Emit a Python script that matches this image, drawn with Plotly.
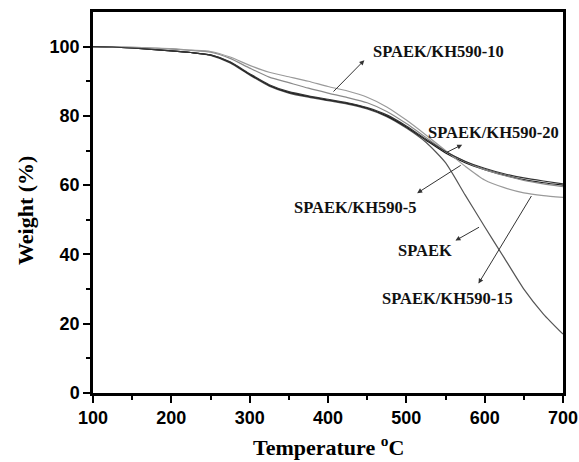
import plotly.graph_objects as go

# Temperature grid (°C) for the TGA traces
temperature = [100, 125, 150, 175, 200, 225, 250, 275, 300, 325, 350, 375, 400,
               425, 450, 475, 500, 525, 550, 575, 600, 625, 650, 675, 700]

# Residual weight (%) for each membrane
w_spaek = [100, 99.9, 99.6, 99.2, 98.8, 98.3, 97.5, 95.3, 91.8, 88.6, 86.6, 85.4, 84.4,
           83.4, 82.0, 79.8, 76.5, 72.4, 66.5, 57.2, 48.0, 39.0, 30.0, 22.8, 17.0]
w_kh5 = [100, 99.9, 99.6, 99.2, 98.8, 98.3, 97.6, 95.5, 92.0, 88.8, 86.8, 85.6, 84.6,
         83.6, 82.2, 80.0, 76.8, 73.0, 69.3, 66.5, 64.5, 62.9, 61.6, 60.7, 60.0]
w_kh10 = [100, 99.9, 99.8, 99.6, 99.3, 98.9, 98.4, 96.6, 93.8, 91.2, 89.6, 88.0, 86.6,
          85.3, 83.8, 81.3, 77.8, 73.8, 69.8, 66.8, 64.5, 62.8, 61.4, 60.4, 59.6]
w_kh15 = [100, 99.9, 99.8, 99.6, 99.4, 99.0, 98.6, 97.0, 94.6, 92.6, 91.3, 90.0, 88.5,
          87.2, 85.4, 82.6, 78.8, 74.5, 70.0, 65.5, 61.5, 59.3, 57.8, 57.0, 56.5]
w_kh20 = [100, 99.9, 99.6, 99.2, 98.8, 98.3, 97.6, 95.6, 92.2, 89.0, 87.0, 85.8, 84.8,
          83.8, 82.4, 80.3, 77.1, 73.3, 69.7, 66.9, 64.9, 63.3, 62.1, 61.2, 60.4]

series = [
    ("SPAEK", w_spaek, "#555555"),
    ("SPAEK/KH590-5", w_kh5, "#1a1a1a"),
    ("SPAEK/KH590-10", w_kh10, "#8a8a8a"),
    ("SPAEK/KH590-15", w_kh15, "#9a9a9a"),
    ("SPAEK/KH590-20", w_kh20, "#333333"),
]

# Label text, label centre (x, y), arrow head (x, y), arrow tail (x, y)
labels = [
    ("SPAEK/KH590-10", (541.6, 98.6), (446.4, 96.1), (405.1, 86.6)),
    ("SPAEK/KH590-20", (611.7, 75.2), (571.3, 71.7), (550.0, 69.3)),
    ("SPAEK/KH590-5", (435.6, 53.6), (513.8, 57.7), (571.3, 66.0)),
    ("SPAEK", (524.4, 41.1), (562.7, 44.0), (594.7, 48.1)),
    ("SPAEK/KH590-15", (552.1, 27.3), (592.1, 31.6), (660.8, 57.3)),
]

serif = "Liberation Serif, Times New Roman, serif"
sans = "Liberation Sans, Arial, sans-serif"

fig = go.Figure()
for name, w, color in series:
    fig.add_trace(go.Scatter(
        x=temperature, y=w, mode="lines", name=name,
        line=dict(color=color, width=1.2, shape="spline", smoothing=0.6),
        showlegend=False,
    ))

label_font = dict(family=serif, size=16.5, color="#111111")
for text, (tx, ty), (hx, hy), (sx, sy) in labels:
    fig.add_annotation(x=tx, y=ty, text=f"<b>{text}</b>", showarrow=False,
                       font=label_font, xanchor="center", yanchor="middle")
    fig.add_annotation(x=hx, y=hy, ax=sx, ay=sy, xref="x", yref="y",
                       axref="x", ayref="y", text="", showarrow=True,
                       arrowhead=2, arrowsize=1, arrowwidth=1, arrowcolor="#333333")

# Axis titles placed in paper space
fig.add_annotation(x=0.5, y=-0.14, xref="paper", yref="paper",
                   text="<b>Temperature <sup>o</sup>C</b>", showarrow=False,
                   xanchor="center", yanchor="middle",
                   font=dict(family=serif, size=22, color="black"))
fig.add_annotation(x=-0.145, y=0.48, xref="paper", yref="paper",
                   text="<b>Weight (%)</b>", showarrow=False, textangle=-90,
                   xanchor="center", yanchor="middle",
                   font=dict(family=serif, size=22, color="black"))

axis_common = dict(
    showline=True, linewidth=2.5, linecolor="black", mirror=True,
    ticks="outside", ticklen=7, tickwidth=2, tickcolor="black",
    showgrid=False, zeroline=False, automargin=False,
    tickfont=dict(family=sans, size=18, color="black", weight="bold"),
)

fig.update_xaxes(
    range=[100, 700], dtick=100, tick0=100,
    minor=dict(dtick=50, ticks="outside", ticklen=4, tickwidth=2, tickcolor="black"),
    **axis_common,
)
fig.update_yaxes(
    range=[0, 110], tickvals=[0, 20, 40, 60, 80, 100],
    minor=dict(tickvals=[10, 30, 50, 70, 90], ticks="outside", ticklen=4, tickwidth=2, tickcolor="black"),
    **axis_common,
)

fig.update_layout(
    width=579, height=462,
    margin=dict(l=93, r=16, t=12, b=69),
    paper_bgcolor="white", plot_bgcolor="white",
)

fig.write_html("out.html")
